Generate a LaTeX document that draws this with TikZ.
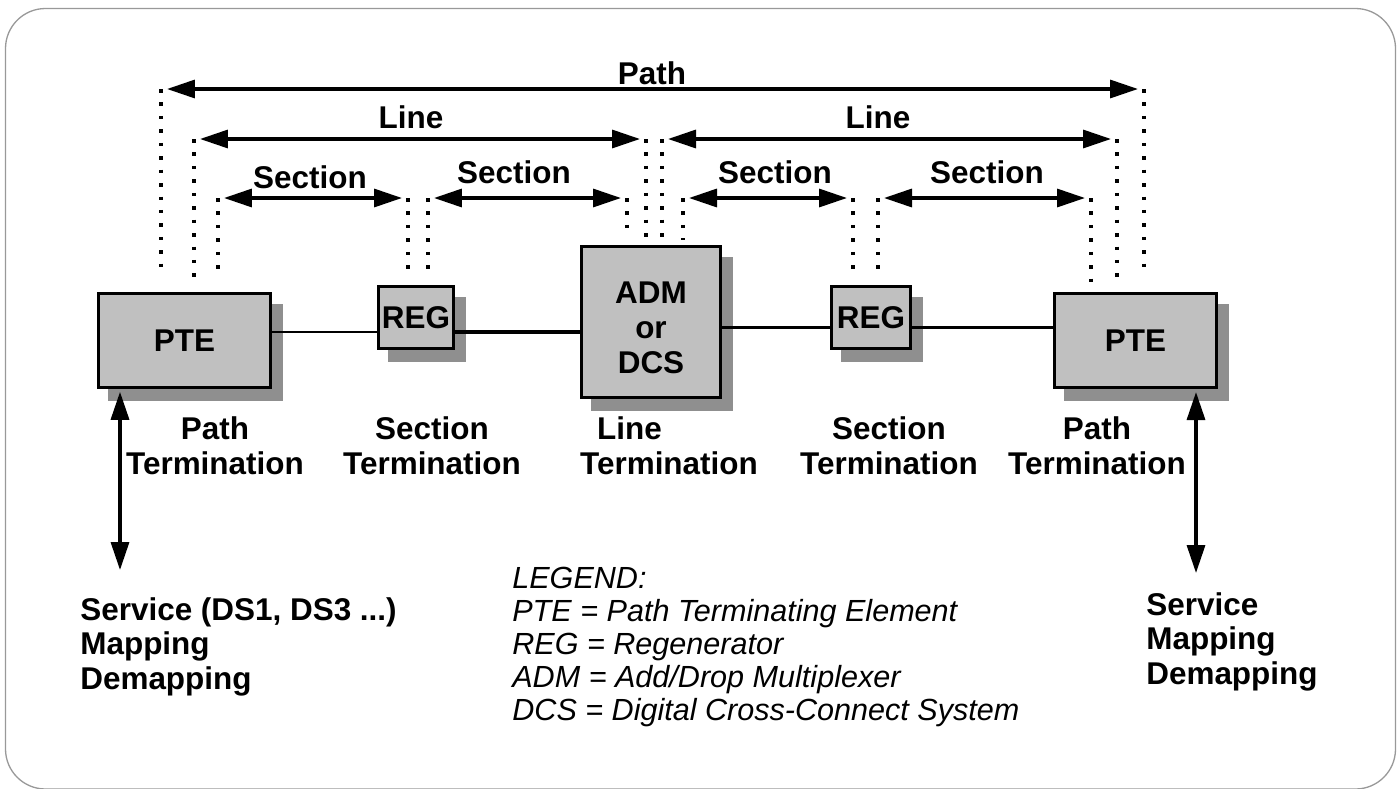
\documentclass[tikz,border=0pt]{standalone}
\usepackage{fontspec}
\setmainfont{Liberation Sans}
\usetikzlibrary{arrows.meta,shadows}
\definecolor{colbox}{HTML}{C0C0C0}
\definecolor{colshade}{HTML}{8F8F8F}
\definecolor{colframe}{HTML}{999999}

\begin{document}
\begin{tikzpicture}[
  x=0.02cm, y=-0.02cm,
  font=\bfseries\fontsize{17.9}{19.9}\selectfont,
  elem/.style={draw, line width=1.5pt, fill=colbox, inner sep=0pt, align=center,
    drop shadow={fill=colshade, draw=colshade, opacity=1,
                 shadow xshift=0.22cm, shadow yshift=-0.24cm}},
  span/.style={{Triangle[length=0.56cm,width=0.36cm]}-{Triangle[length=0.56cm,width=0.36cm]},
    line width=1.9pt, shorten <=0.12cm, shorten >=0.12cm},
  guide/.style={line width=2pt, dash pattern=on 2pt off 5.65pt},
  link/.style={line width=1.2pt},
  heavy/.style={line width=1.9pt},
  svc/.style={align=left, anchor=north west, inner sep=0pt,
    font=\bfseries\fontsize{17.9}{19.6}\selectfont},
  legend/.style={align=left, anchor=north west, inner sep=0pt,
    font=\mdseries\itshape\fontsize{17.4}{18.8}\selectfont},
]
  \useasboundingbox (0,0) rectangle (1400,788);
  \draw[colframe, line width=0.74pt, rounded corners=0.8cm] (5.5,8.5) rectangle (1395.5,789);

  % ends of the spans, one per dotted guide
  \coordinate (pA) at (161,89);
  \coordinate (pB) at (1144,89);
  \coordinate (lA) at (194,139);
  \coordinate (lB) at (646,139);
  \coordinate (lC) at (662,139);
  \coordinate (lD) at (1117,139);
  \coordinate (sA) at (218,198);
  \coordinate (sB) at (408,198);
  \coordinate (sC) at (428,198);
  \coordinate (sD) at (627,198);
  \coordinate (sE) at (683,198);
  \coordinate (sF) at (853,198);
  \coordinate (sG) at (878,198);
  \coordinate (sH) at (1091,198);

  \draw[guide] (pA) -- ++(0,188);
  \draw[guide] (pB) -- ++(0,188);
  \draw[guide] (lA) -- ++(0,143);
  \draw[guide] (lB) -- ++(0,98);
  \draw[guide] (lC) -- ++(0,101);
  \draw[guide] (lD) -- ++(0,143);
  \draw[guide] (sA) -- ++(0,79);
  \draw[guide] (sB) -- ++(0,74);
  \draw[guide] (sC) -- ++(0,74);
  \draw[guide] (sD) -- ++(0,32);
  \draw[guide] (sE) -- ++(0,42);
  \draw[guide] (sF) -- ++(0,72);
  \draw[guide] (sG) -- ++(0,72);
  \draw[guide] (sH) -- ++(0,89);

  \draw[span] (pA) -- (pB);
  \draw[span] (lA) -- (lB);
  \draw[span] (lC) -- (lD);
  \draw[span] (sA) -- (sB);
  \draw[span] (sC) -- (sD);
  \draw[span] (sE) -- (sF);
  \draw[span] (sG) -- (sH);

  \node (tPath) at (652,73) {Path};
  \node (tLineA) at (411,117) {Line};
  \node (tLineB) at (878,117) {Line};
  \node (tSecA) at (310,177) {Section};
  \node (tSecB) at (514,172) {Section};
  \node (tSecC) at (775,172) {Section};
  \node (tSecD) at (987,172) {Section};

  % network elements
  \node[elem, minimum width=3.44cm, minimum height=1.88cm] (pteL) at (184.5,340.5) {PTE};
  \node[elem, minimum width=1.51cm, minimum height=1.25cm] (regL) at (416,317.5) {REG};
  \node[elem, minimum width=2.79cm, minimum height=3.03cm] (adm) at (651,322)
        {\rule{0pt}{0.68cm}ADM\\or\\DCS};
  \node[elem, minimum width=1.59cm, minimum height=1.25cm] (regR) at (871,317.5) {REG};
  \node[elem, minimum width=3.25cm, minimum height=1.89cm] (pteR) at (1135.5,340.5) {PTE};

  \coordinate (lkL) at (0,332);
  \coordinate (lkR) at (0,327.5);
  \draw[link] (pteL.east |- lkL) -- (regL.west |- lkL);
  \draw[heavy] (regL.east |- lkL) -- (adm.west |- lkL);
  \draw[heavy] (adm.east |- lkR) -- (regR.west |- lkR);
  \draw[link] (regR.east |- lkR) -- (pteR.west |- lkR);

  \node[align=center] (trPathA) at (215,445.5) {Path\\Termination};
  \node[align=center] (trSecA) at (432,445.5) {Section\\Termination};
  \node[align=left] (trLine) at (669,445.5) {\hspace*{0.34cm}Line\\Termination};
  \node[align=center] (trSecB) at (889,445.5) {Section\\Termination};
  \node[align=center] (trPathB) at (1097,445.5) {Path\\Termination};

  % service access
  \coordinate (svcA) at (120,570);
  \coordinate (svcB) at (1196,573);
  \draw[span, shorten <=0.06cm, shorten >=0pt] (svcA |- pteL.south) -- (svcA);
  \draw[span, shorten <=0.06cm, shorten >=0pt] (svcB |- pteR.south) -- (svcB);

  \node[svc] (svcTxtA) at (80,597) {Service (DS1, DS3 ...)\\Mapping\\Demapping};
  \node[svc] (svcTxtB) at (1146,592) {Service\\Mapping\\Demapping};

  \node[legend] (legend) at (512,567) {LEGEND:\\PTE = Path Terminating Element\\
    REG = Regenerator\\ADM = Add/Drop Multiplexer\\DCS = Digital Cross-Connect System};
\end{tikzpicture}
\end{document}
